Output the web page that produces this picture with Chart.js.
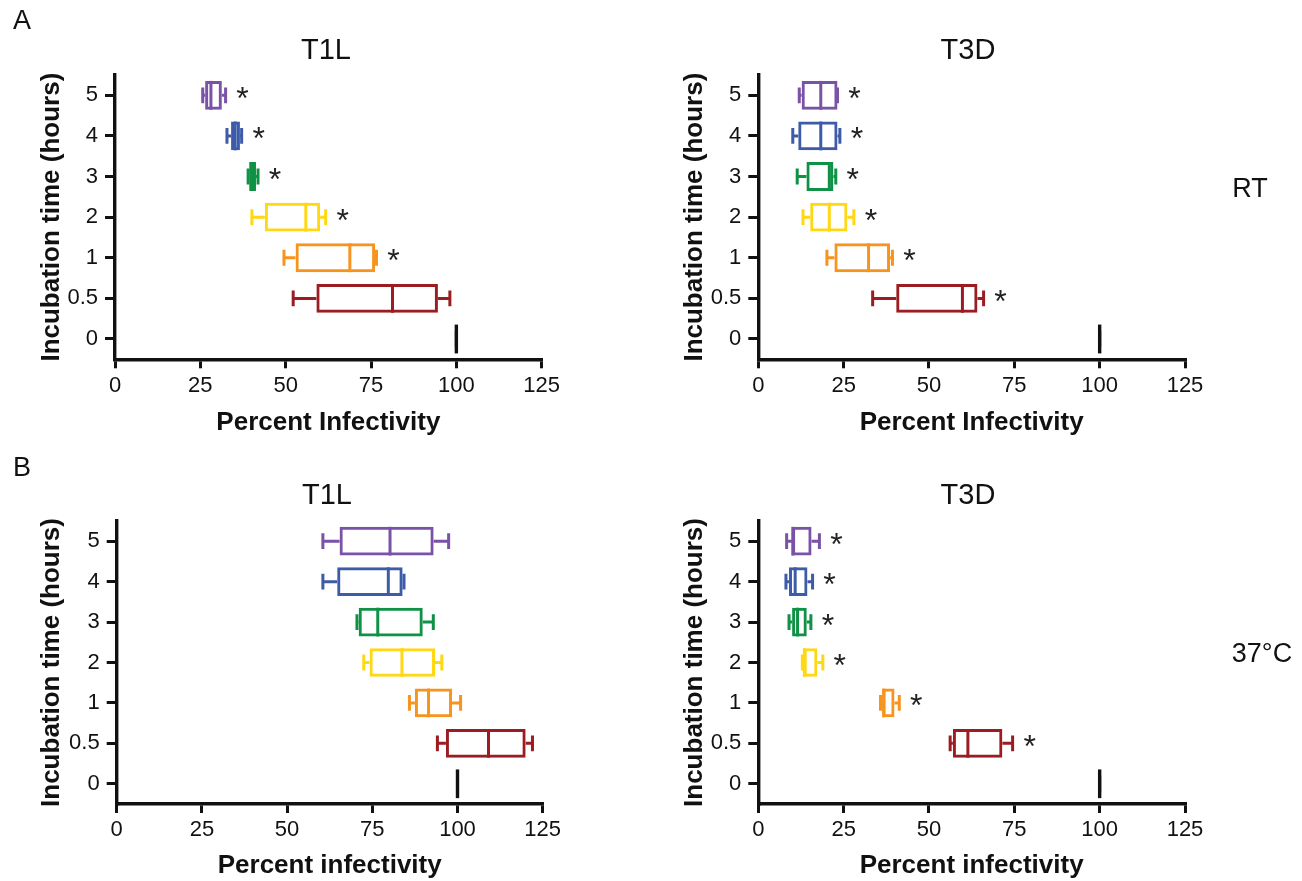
<!DOCTYPE html>
<html>
<head>
<meta charset="utf-8">
<script src="https://cdn.jsdelivr.net/npm/chart.js@4"></script>
<style>
body { margin: 0; background: #fff; font-family: "Liberation Sans", Arial, sans-serif; }
#wrap { position: relative; width: 1302px; height: 881px; overflow: hidden; }
.panel { position: absolute; width: 651px; }
.lbl { position: absolute; font-size: 27px; color: #111; transform: translate(-50%, -50%); white-space: nowrap; }
.tit { font-size: 29px; }
</style>
</head>
<body>
<div id="wrap">
    <div class="panel" style="left:0;top:0;height:445px"><canvas id="c1"></canvas></div>
    <div class="panel" style="left:651px;top:0;height:445px"><canvas id="c2"></canvas></div>
    <div class="panel" style="left:0;top:445px;height:436px"><canvas id="c3"></canvas></div>
    <div class="panel" style="left:651px;top:445px;height:436px"><canvas id="c4"></canvas></div>

    <div class="lbl" style="left:22px;top:20px">A</div>
    <div class="lbl" style="left:22px;top:467px">B</div>
    <div class="lbl tit" style="left:326px;top:49px">T1L</div>
    <div class="lbl tit" style="left:968px;top:49px">T3D</div>
    <div class="lbl tit" style="left:327px;top:494px">T1L</div>
    <div class="lbl tit" style="left:968px;top:494px">T3D</div>
    <div class="lbl" style="left:1250px;top:188px">RT</div>
    <div class="lbl" style="left:1262px;top:653px">37°C</div>
</div>

<script>
// categorias (horas de incubación), de arriba a abajo
const categorias = ['5', '4', '3', '2', '1', '0.5', '0'];
const xTicks = [0, 25, 50, 75, 100, 125];
const colores = ['#7a52a6', '#3d5ba9', '#0f9146', '#ffd814', '#f7941e', '#9b1d22', '#111111'];

// cada fila: [min, q1, mediana, q3, max]
const rtT1L = [
    [25.7, 26.4, 28.1, 31.3, 32.4],
    [32.8, 34.0, 35.2, 36.6, 37.1],
    [39.0, 39.3, 40.1, 41.3, 41.9],
    [40.1, 43.9, 55.9, 60.1, 61.7],
    [49.5, 52.9, 68.8, 76.2, 76.6],
    [52.2, 59.0, 81.3, 94.6, 98.1],
    [100, 100, 100, 100, 100]
];
const rtT3D = [
    [12.0, 12.7, 18.3, 23.2, 23.2],
    [10.1, 11.7, 18.3, 23.2, 23.9],
    [11.4, 14.1, 20.8, 22.0, 22.7],
    [13.1, 15.2, 20.8, 26.1, 28.0],
    [20.1, 22.3, 32.3, 38.6, 39.3],
    [33.5, 40.4, 59.8, 64.2, 66.0],
    [100, 100, 100, 100, 100]
];
const c37T1L = [
    [60.5, 65.4, 80.2, 93.0, 97.4],
    [60.5, 64.7, 79.7, 83.9, 84.3],
    [70.5, 71.0, 76.6, 89.8, 92.9],
    [72.5, 74.2, 83.7, 93.4, 95.4],
    [85.9, 87.5, 91.5, 98.4, 100.9],
    [94.1, 96.6, 109.1, 120.0, 122.0],
    [100, 100, 100, 100, 100]
];
const c37T3D = [
    [8.3, 9.9, 10.1, 15.6, 17.9],
    [8.1, 9.0, 10.8, 14.4, 15.9],
    [9.0, 9.9, 11.5, 14.2, 15.4],
    [12.9, 13.3, 13.5, 17.3, 18.9],
    [35.8, 36.4, 36.7, 39.9, 41.3],
    [56.2, 57.0, 61.4, 71.5, 74.5],
    [100, 100, 100, 100, 100]
];
// asterisco de significancia por fila
const rtT1LStars = [true, true, true, true, true, false, false];
const rtT3DStars = [true, true, true, true, true, true, false];
const c37T1LStars = [false, false, false, false, false, false, false];
const c37T3DStars = [true, true, true, true, true, true, false];

const GROSOR = 3;

// bigotes, medianas y asteriscos, dibujados con las escalas del gráfico
const boxExtras = {
    id: 'boxExtras',
    afterDatasetsDraw(chart, args, opts) {
        const ctx = chart.ctx;
        const x = chart.scales.x;
        const y = chart.scales.y;
        const banda = Math.abs(y.getPixelForValue(1) - y.getPixelForValue(0));
        const boxH = banda * 0.71;
        const capH = banda * 0.39;
        ctx.save();
        ctx.lineCap = 'butt';
        opts.filas.forEach((f, i) => {
            const yc = y.getPixelForValue(i);
            const [mn, q1, med, q3, mx] = f.map(v => x.getPixelForValue(v));
            ctx.strokeStyle = colores[i];
            ctx.lineWidth = GROSOR;
            ctx.beginPath();
            ctx.moveTo(mn, yc); ctx.lineTo(q1, yc);
            ctx.moveTo(q3, yc); ctx.lineTo(mx, yc);
            ctx.moveTo(mn, yc - capH / 2); ctx.lineTo(mn, yc + capH / 2);
            ctx.moveTo(mx, yc - capH / 2); ctx.lineTo(mx, yc + capH / 2);
            ctx.stroke();
            ctx.beginPath();
            ctx.lineWidth = i === 6 ? 3.4 : GROSOR;
            ctx.moveTo(med, yc - boxH / 2); ctx.lineTo(med, yc + boxH / 2);
            ctx.stroke();
            if (opts.stars[i]) {
                const fs = 32;
                ctx.fillStyle = '#222';
                ctx.font = fs + 'px "Liberation Sans"';
                ctx.textAlign = 'center';
                ctx.textBaseline = 'alphabetic';
                ctx.fillText('*', mx + 17, yc + fs * 0.42);
            }
        });
        ctx.restore();
    }
};

function crearGrafica(id, filas, stars, xTitulo, cfg) {
    const ctx = document.getElementById(id).getContext('2d');
    return new Chart(ctx, {
        type: 'bar',
        data: {
            labels: categorias,
            datasets: [{
                data: filas.map((f, i) => i === 6 ? null : [f[1], f[3]]),
                backgroundColor: 'rgba(255,255,255,0)',
                borderColor: colores,
                borderWidth: GROSOR,
                borderSkipped: false,
                barPercentage: 0.71,
                categoryPercentage: 1
            }]
        },
        plugins: [boxExtras],
        options: {
            indexAxis: 'y',
            responsive: true,
            maintainAspectRatio: false,
            animation: false,
            layout: { padding: { left: 0, top: cfg.padTop, right: cfg.padRight, bottom: 0 } },
            plugins: {
                legend: { display: false },
                tooltip: { enabled: false },
                boxExtras: { filas: filas, stars: stars }
            },
            scales: {
                x: {
                    type: 'linear',
                    min: 0,
                    max: 125,
                    afterBuildTicks: s => { s.ticks = xTicks.map(v => ({ value: v })); },
                    afterFit: s => { s.height = cfg.xHeight; },
                    grid: { drawOnChartArea: false, drawTicks: true, tickLength: 9, color: '#111', lineWidth: 3 },
                    border: { color: '#111', width: 3.4 },
                    ticks: { color: '#111', padding: 4, font: { size: 22, family: 'Liberation Sans' } },
                    title: {
                        display: true,
                        text: xTitulo,
                        color: '#111',
                        font: { size: 26, weight: 'bold', family: 'Liberation Sans' },
                        padding: { top: 0, bottom: cfg.xTitlePad }
                    }
                },
                y: {
                    type: 'category',
                    offset: true,
                    afterFit: s => { s.width = cfg.yWidth; },
                    grid: { offset: false, drawOnChartArea: false, drawTicks: true, tickLength: 10, color: '#111', lineWidth: 3 },
                    border: { color: '#111', width: 3.4 },
                    ticks: { color: '#111', padding: 7, font: { size: 22, family: 'Liberation Sans' } },
                    title: {
                        display: true,
                        text: 'Incubation time (hours)',
                        color: '#111',
                        font: { size: 26, weight: 'bold', family: 'Liberation Sans' },
                        padding: { top: cfg.yTitlePad, bottom: 0 }
                    }
                }
            }
        }
    });
}

crearGrafica('c1', rtT1L, rtT1LStars, 'Percent Infectivity',
    { yWidth: 115, yTitlePad: 36, padTop: 75, padRight: 109.3, xHeight: 85.7, xTitlePad: 7 });
crearGrafica('c2', rtT3D, rtT3DStars, 'Percent Infectivity',
    { yWidth: 107.3, yTitlePad: 28, padTop: 75, padRight: 117, xHeight: 85.7, xTitlePad: 7 });
crearGrafica('c3', c37T1L, c37T1LStars, 'Percent infectivity',
    { yWidth: 116.7, yTitlePad: 36, padTop: 76, padRight: 108.3, xHeight: 77, xTitlePad: 0 });
crearGrafica('c4', c37T3D, c37T3DStars, 'Percent infectivity',
    { yWidth: 107.3, yTitlePad: 28, padTop: 76, padRight: 117, xHeight: 77, xTitlePad: 0 });
</script>
</body>
</html>
